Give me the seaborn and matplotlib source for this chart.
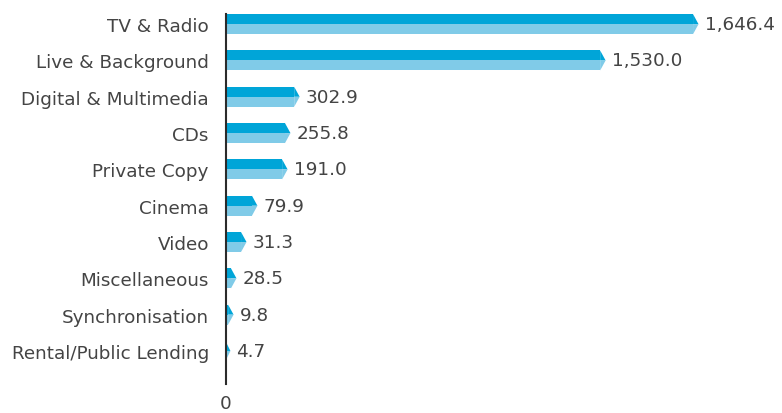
import pandas as pd
import seaborn as sns
import matplotlib.pyplot as plt
from matplotlib.patches import Polygon

# categories and the printed values
categories = ["TV & Radio", "Live & Background", "Digital & Multimedia", "CDs",
              "Private Copy", "Cinema", "Video", "Miscellaneous",
              "Synchronisation", "Rental/Public Lending"]
values = [1646.4, 1530.0, 302.9, 255.8, 191.0, 79.9, 31.3, 28.5, 9.8, 4.7]

# bar lengths as drawn in the source graphic (it is not to scale)
bar_lengths = [1646.4, 1323, 258, 226, 216, 111, 73, 38, 28, 17]

dark_blue = "#00A5D8"
light_blue = "#80CBE8"
text_col = "#444444"
tip = 19          # width of the arrow point, in data units
bar_h = 0.55

sns.set_style("white")
plt.rcParams["font.family"] = ["DejaVu Sans"]

rect_len = [max(b - tip, 0) for b in bar_lengths]
df = pd.DataFrame({
    "category": categories * 2,
    "half": ["top"] * len(categories) + ["bottom"] * len(categories),
    "length": rect_len * 2,
})

fig = plt.figure(figsize=(7.82, 4.14), dpi=100)
ax = fig.add_axes([0.2884, 0.0700, 0.7116, 0.8938])

sns.barplot(data=df, y="category", x="length", hue="half", order=categories,
            hue_order=["top", "bottom"], palette=[dark_blue, light_blue],
            saturation=1, orient="h", width=bar_h, dodge=True, gap=0,
            legend=False, linewidth=0, ax=ax)

# arrow points on the bar ends
half = bar_h / 2
for i, (r, b) in enumerate(zip(rect_len, bar_lengths)):
    ax.add_patch(Polygon([(r, i - half), (b, i), (r, i)], closed=True,
                         facecolor=dark_blue, edgecolor="none"))
    ax.add_patch(Polygon([(r, i), (b, i), (r, i + half)], closed=True,
                         facecolor=light_blue, edgecolor="none"))
    ax.text(b + 21, i, f"{values[i]:,.1f}", va="center", ha="left",
            fontsize=13.2, color=text_col)

ax.set_xlim(0, 1937)
ax.set_ylim(9.91, -0.28)
ax.set_xticks([0])
ax.set_xticklabels(["0"])
ax.set_xlabel("")
ax.set_ylabel("")
ax.tick_params(axis="x", length=0, pad=7.5, labelsize=13.2, labelcolor=text_col)
ax.tick_params(axis="y", length=0, pad=12, labelsize=13.2, labelcolor=text_col)

for side in ["top", "right", "bottom"]:
    ax.spines[side].set_visible(False)
ax.spines["left"].set_color("#2B2B2B")
ax.spines["left"].set_linewidth(1.5)

fig.savefig("out.png", dpi=100)
